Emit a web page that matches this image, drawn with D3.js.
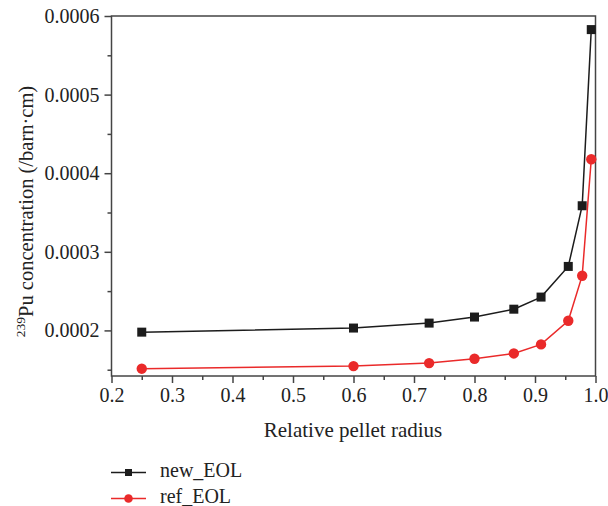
<!DOCTYPE html>
<html><head><meta charset="utf-8">
<script src="https://cdn.jsdelivr.net/npm/d3@7"></script>
<style>body{margin:0;background:#fff}svg text{font-family:"Liberation Serif","Times New Roman",serif;fill:#222}</style>
</head><body><svg id="c" width="608" height="506"></svg>
<script>
const radius = [0.25, 0.6, 0.725, 0.8, 0.865, 0.91, 0.955, 0.978, 0.993];
const newEOL = [0.0001978, 0.000203, 0.0002093, 0.000217, 0.000227, 0.0002424, 0.0002814, 0.0003586, 0.0005827];
const refEOL = [0.0001513, 0.0001546, 0.0001584, 0.000164, 0.0001707, 0.0001822, 0.0002123, 0.0002696, 0.0004178];
const xTicks = [0.2, 0.3, 0.4, 0.5, 0.6, 0.7, 0.8, 0.9, 1.0];
const yTicks = [0.0002, 0.0003, 0.0004, 0.0005, 0.0006];
const seriesNames = ["new_EOL", "ref_EOL"];
const colors = ["#1c1c1c", "#ea2a2a"];

const svg = d3.select("#c");
const L = 111.5, R = 595.5, T = 16, B = 376;
const x = d3.scaleLinear().domain([0.2, 1.0]).range([L, R]);
const y = d3.scaleLinear().domain([0.000142, 0.0006]).range([B, T]);
const axisCol = "#444";

// frame
svg.append("rect").attr("x", L).attr("y", T).attr("width", R - L).attr("height", B - T)
  .attr("fill", "none").attr("stroke", axisCol).attr("stroke-width", 1.5);

const fmtX = d => d.toFixed(1);
const fmtY = d => d.toFixed(4);

const gx = svg.append("g").attr("transform", `translate(0,${B})`)
  .call(d3.axisBottom(x).tickValues(xTicks).tickFormat(fmtX).tickSize(7).tickPadding(5));
const gxm = svg.append("g").attr("transform", `translate(0,${B})`)
  .call(d3.axisBottom(x).tickValues(d3.range(0.25, 1.0, 0.1)).tickFormat("").tickSize(4));
const gy = svg.append("g").attr("transform", `translate(${L},0)`)
  .call(d3.axisLeft(y).tickValues(yTicks).tickFormat(fmtY).tickSize(7).tickPadding(5));
const gym = svg.append("g").attr("transform", `translate(${L},0)`)
  .call(d3.axisLeft(y).tickValues([0.00015, 0.00025, 0.00035, 0.00045, 0.00055]).tickFormat("").tickSize(4));
[gx, gxm, gy, gym].forEach(g => {
  g.select(".domain").remove();
  g.selectAll("line").attr("stroke", axisCol).attr("stroke-width", 1.5);
  g.selectAll("text").attr("font-size", 20).attr("fill", "#222")
   .style("font-family", '"Liberation Serif", serif');
});

// axis titles
svg.append("text").attr("x", 353).attr("y", 437).attr("text-anchor", "middle")
  .attr("font-size", 21).text("Relative pellet radius");
const yl = svg.append("text").attr("transform", `translate(33,211.5) rotate(-90)`)
  .attr("text-anchor", "middle").attr("font-size", 20.5);
yl.append("tspan").attr("font-size", 13.5).attr("dy", -8).text("239");
yl.append("tspan").attr("dy", 8).text("Pu concentration (/barn·cm)");

// series
const data = [newEOL, refEOL];
const line = d3.line().x((d, i) => x(radius[i])).y(d => y(d));
data.forEach((vals, k) => {
  svg.append("path").datum(vals).attr("d", line).attr("fill", "none")
    .attr("stroke", colors[k]).attr("stroke-width", 1.5);
  const g = svg.append("g");
  if (k === 0) {
    g.selectAll("rect").data(vals).join("rect")
      .attr("x", (d, i) => x(radius[i]) - 4.5).attr("y", d => y(d) - 4.5)
      .attr("width", 9).attr("height", 9).attr("fill", colors[k]);
  } else {
    g.selectAll("circle").data(vals).join("circle")
      .attr("cx", (d, i) => x(radius[i])).attr("cy", d => y(d)).attr("r", 5.2).attr("fill", colors[k]);
  }
});

// legend
const ly = [472.5, 498.5];
seriesNames.forEach((name, k) => {
  svg.append("line").attr("x1", 111).attr("x2", 146).attr("y1", ly[k]).attr("y2", ly[k])
    .attr("stroke", colors[k]).attr("stroke-width", 1.5);
  if (k === 0) svg.append("rect").attr("x", 125).attr("y", ly[k] - 3.5).attr("width", 7).attr("height", 7).attr("fill", colors[k]);
  else svg.append("circle").attr("cx", 128.5).attr("cy", ly[k]).attr("r", 4.3).attr("fill", colors[k]);
  svg.append("text").attr("x", 160).attr("y", ly[k] + 4).attr("font-size", 20).text(name);
});
</script></body></html>
